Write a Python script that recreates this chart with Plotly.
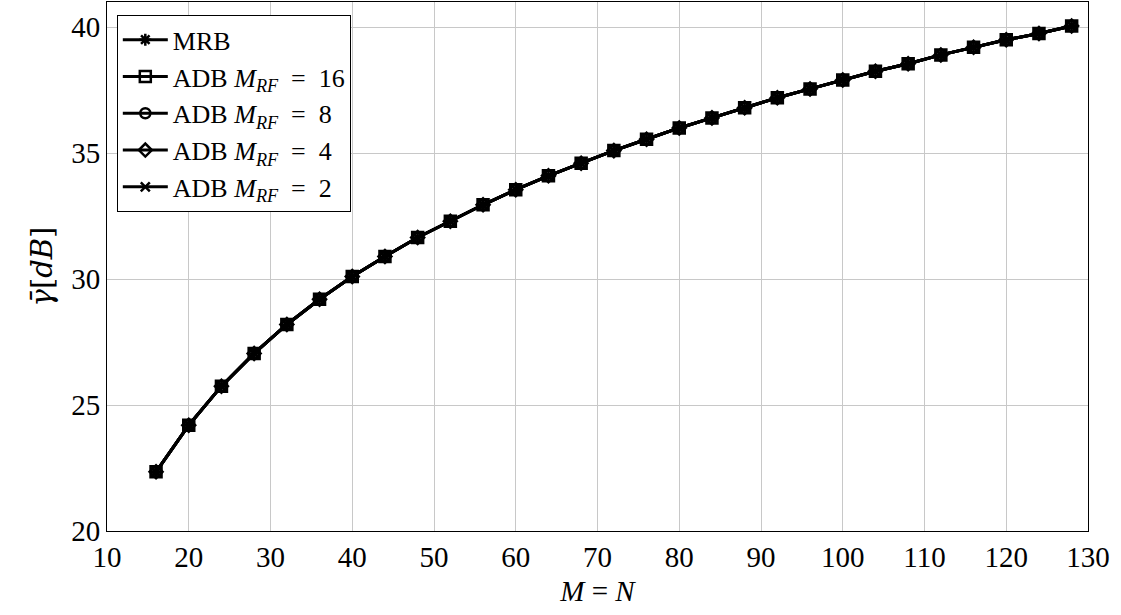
import plotly.graph_objects as go

M = [16, 20, 24, 28, 32, 36, 40, 44, 48, 52, 56, 60, 64, 68, 72, 76, 80, 84, 88, 92,
     96, 100, 104, 108, 112, 116, 120, 124, 128]
gamma_db = [22.35, 24.2, 25.75, 27.05, 28.2, 29.2, 30.1, 30.9, 31.65, 32.3, 32.95, 33.55,
            34.1, 34.6, 35.1, 35.55, 36.0, 36.4, 36.8, 37.2, 37.55, 37.9, 38.25, 38.55,
            38.9, 39.2, 39.5, 39.75, 40.05]

EQ = "\u2002=\u2002"
series_names = ["MRB",
                "ADB <i>M</i><sub><i>RF</i></sub>" + EQ + "16",
                "ADB <i>M</i><sub><i>RF</i></sub>" + EQ + "8",
                "ADB <i>M</i><sub><i>RF</i></sub>" + EQ + "4",
                "ADB <i>M</i><sub><i>RF</i></sub>" + EQ + "2"]
symbols = ["asterisk-open", "square-open", "circle-open", "diamond-open", "x-thin-open"]
sizes = [10, 11, 10, 10, 9]

x_ticks = [10, 20, 30, 40, 50, 60, 70, 80, 90, 100, 110, 120, 130]
y_ticks = [20, 25, 30, 35, 40]

fig = go.Figure()
for name, sym, sz in zip(series_names, symbols, sizes):
    fig.add_trace(go.Scatter(
        x=M, y=gamma_db, name=name, mode="lines+markers",
        line=dict(color="black", width=3),
        marker=dict(symbol=sym, size=sz, color="black", line=dict(color="black", width=2.5)),
    ))

font_family = "Liberation Serif, DejaVu Serif, serif"
FS = 29
fig.update_layout(
    width=1121, height=615,
    margin=dict(l=107, r=33, t=2, b=84),
    plot_bgcolor="white", paper_bgcolor="white",
    font=dict(family=font_family, size=FS, color="black"),
    showlegend=True,
    legend=dict(x=0.01, y=0.975, xanchor="left", yanchor="top",
                bgcolor="white", bordercolor="black", borderwidth=1,
                font=dict(size=26), tracegroupgap=0, itemwidth=45),
    xaxis=dict(range=[10, 130], tickvals=x_ticks, showgrid=True, gridcolor="#c8c8c8",
               gridwidth=1, showline=True, linecolor="black", linewidth=1, mirror=True,
               zeroline=False, ticks="", tickfont=dict(size=FS),
               title=dict(text="<i>M</i> = <i>N</i>", font=dict(size=FS), standoff=8)),
    yaxis=dict(range=[20, 41], tickvals=y_ticks, showgrid=True, gridcolor="#c8c8c8",
               gridwidth=1, showline=True, linecolor="black", linewidth=1, mirror=True,
               zeroline=False, ticks="", tickfont=dict(size=FS),
               title=dict(text="<i>γ̄</i>[<i>dB</i>]",
                          font=dict(size=FS, family="DejaVu Serif, serif"), standoff=10)),
)

fig.write_html("out.html")
